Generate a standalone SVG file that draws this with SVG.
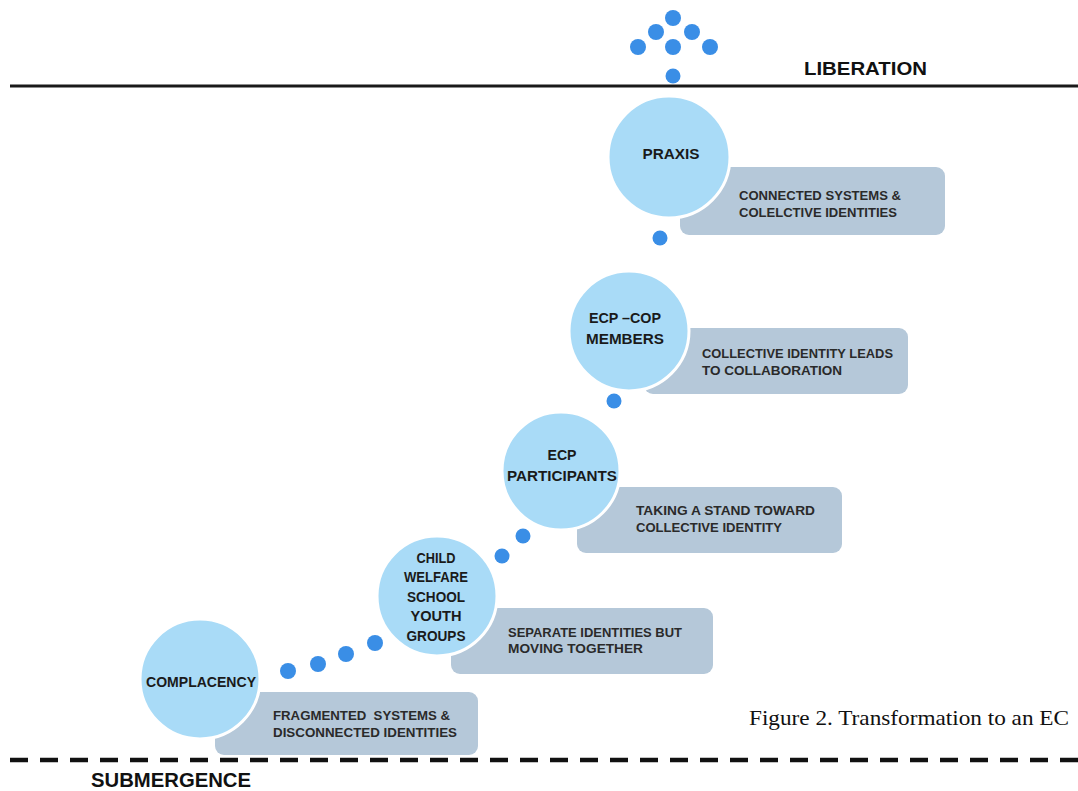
<svg xmlns="http://www.w3.org/2000/svg" width="1078" height="791" viewBox="0 0 1078 791">
<defs>
<style>
.stage{fill:#a9dbf7;stroke:#ffffff;stroke-width:3}
.box{fill:#b5c8d9}
.dot{fill:#3a8ee6}
.ct{font-family:"Liberation Sans",Arial,sans-serif;font-weight:bold;font-size:14px;fill:#1a1a1a;text-anchor:middle}
.bt{font-family:"Liberation Sans",Arial,sans-serif;font-weight:bold;font-size:13px;fill:#2a2a2a}
.lbl{font-family:"Liberation Sans",Arial,sans-serif;font-weight:bold;fill:#111111}
</style>
</defs>
<rect width="1078" height="791" fill="#ffffff"/>

<g id="levels">
<line x1="10" y1="86" x2="1078" y2="86" stroke="#1a1a1a" stroke-width="3"/>
<line x1="10" y1="760" x2="1078" y2="760" stroke="#111111" stroke-width="4.5" stroke-dasharray="18 12"/>
<text class="lbl" x="804" y="75" font-size="19" textLength="123" lengthAdjust="spacingAndGlyphs">LIBERATION</text>
<text class="lbl" x="91" y="787" font-size="20" textLength="160" lengthAdjust="spacingAndGlyphs">SUBMERGENCE</text>
</g>

<g id="connectors">
<circle class="dot" cx="673" cy="18" r="8"/>
<circle class="dot" cx="656" cy="32" r="8"/>
<circle class="dot" cx="692" cy="32" r="8"/>
<circle class="dot" cx="638" cy="47" r="8"/>
<circle class="dot" cx="673" cy="47" r="8"/>
<circle class="dot" cx="710" cy="47" r="8"/>
<circle class="dot" cx="673" cy="76" r="7.5"/>
<circle class="dot" cx="660" cy="238" r="7.5"/>
<circle class="dot" cx="614" cy="401" r="7.5"/>
<circle class="dot" cx="523" cy="536" r="7.5"/>
<circle class="dot" cx="502" cy="556" r="7.5"/>
<circle class="dot" cx="375" cy="643" r="8"/>
<circle class="dot" cx="346" cy="654" r="8"/>
<circle class="dot" cx="318" cy="664" r="8"/>
<circle class="dot" cx="288" cy="671" r="8"/>
</g>

<g id="node-praxis">
<rect class="box" x="680" y="167" width="265" height="68" rx="9"/>
<circle class="stage" cx="669" cy="157" r="61"/>
<text class="ct" x="671" y="159" textLength="57" lengthAdjust="spacingAndGlyphs">PRAXIS</text>
<text class="bt" x="739" y="200" textLength="162" lengthAdjust="spacingAndGlyphs">CONNECTED SYSTEMS &amp;</text>
<text class="bt" x="739" y="217" textLength="158" lengthAdjust="spacingAndGlyphs">COLELCTIVE IDENTITIES</text>
</g>

<g id="node-ecp-cop">
<rect class="box" x="644" y="328" width="264" height="66" rx="9"/>
<circle class="stage" cx="629" cy="331" r="60"/>
<text class="ct" x="625" y="323" textLength="72" lengthAdjust="spacingAndGlyphs">ECP –COP</text>
<text class="ct" x="625" y="344" textLength="78" lengthAdjust="spacingAndGlyphs">MEMBERS</text>
<text class="bt" x="702" y="358" textLength="191" lengthAdjust="spacingAndGlyphs">COLLECTIVE IDENTITY LEADS</text>
<text class="bt" x="702" y="375" textLength="140" lengthAdjust="spacingAndGlyphs">TO COLLABORATION</text>
</g>

<g id="node-ecp-participants">
<rect class="box" x="577" y="487" width="265" height="66" rx="9"/>
<circle class="stage" cx="561" cy="471" r="59"/>
<text class="ct" x="562" y="460" textLength="29" lengthAdjust="spacingAndGlyphs">ECP</text>
<text class="ct" x="562" y="481" textLength="110" lengthAdjust="spacingAndGlyphs">PARTICIPANTS</text>
<text class="bt" x="636" y="515" textLength="179" lengthAdjust="spacingAndGlyphs">TAKING A STAND TOWARD</text>
<text class="bt" x="636" y="532" textLength="146" lengthAdjust="spacingAndGlyphs">COLLECTIVE IDENTITY</text>
</g>

<g id="node-child-welfare">
<rect class="box" x="451" y="608" width="262" height="66" rx="9"/>
<circle class="stage" cx="437" cy="596" r="60"/>
<text class="ct" x="436" y="563" textLength="39" lengthAdjust="spacingAndGlyphs">CHILD</text>
<text class="ct" x="436" y="582" textLength="64" lengthAdjust="spacingAndGlyphs">WELFARE</text>
<text class="ct" x="436" y="602" textLength="58" lengthAdjust="spacingAndGlyphs">SCHOOL</text>
<text class="ct" x="436" y="621" textLength="51" lengthAdjust="spacingAndGlyphs">YOUTH</text>
<text class="ct" x="436" y="641" textLength="59" lengthAdjust="spacingAndGlyphs">GROUPS</text>
<text class="bt" x="508" y="637" textLength="174" lengthAdjust="spacingAndGlyphs">SEPARATE IDENTITIES BUT</text>
<text class="bt" x="508" y="653" textLength="135" lengthAdjust="spacingAndGlyphs">MOVING TOGETHER</text>
</g>

<g id="node-complacency">
<rect class="box" x="215" y="692" width="263" height="63" rx="9"/>
<circle class="stage" cx="200" cy="679" r="60"/>
<text class="ct" x="201" y="687" textLength="110" lengthAdjust="spacingAndGlyphs">COMPLACENCY</text>
<text class="bt" x="273" y="720" textLength="177" lengthAdjust="spacingAndGlyphs">FRAGMENTED&#160; SYSTEMS &amp;</text>
<text class="bt" x="273" y="737" textLength="184" lengthAdjust="spacingAndGlyphs">DISCONNECTED IDENTITIES</text>
</g>

<g id="caption">
<text x="749" y="725" font-family="'Liberation Serif','Times New Roman',serif" font-size="21" fill="#111111" textLength="320" lengthAdjust="spacingAndGlyphs">Figure 2. Transformation to an EC</text>
</g>
</svg>
